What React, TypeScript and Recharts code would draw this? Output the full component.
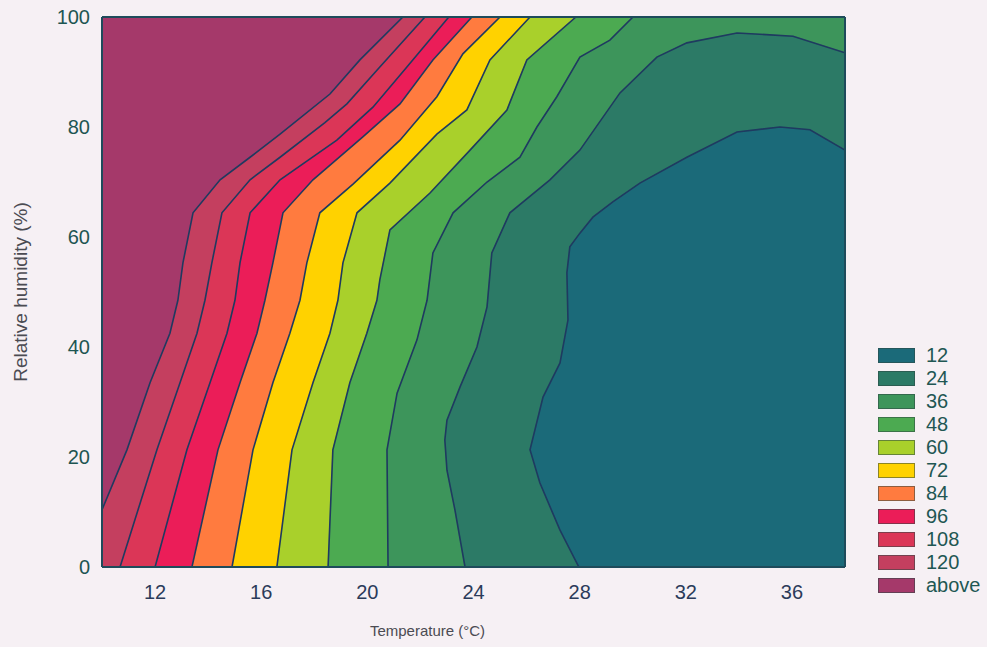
import React from 'react';
import { ComposedChart, Scatter, XAxis, YAxis, Legend } from 'recharts';

// legend order, top to bottom
const levels = ['12', '24', '36', '48', '60', '72', '84', '96', '108', '120', 'above'];
const levelColors = [
  '#1b6a79', '#2c7a66', '#3d955b', '#4caa51', '#a9d02b', '#ffd200',
  '#ff7b3f', '#eb1d58', '#db3657', '#c43f5f', '#a5396a',
];

const xTicks = [11, 12, 13, 14, 15, 16, 17, 18, 19, 20, 21, 22, 23, 24, 25, 26, 27, 28, 29, 30, 31, 32, 33, 34, 35, 36, 37];
const xLabels = [12, 16, 20, 24, 28, 32, 36];
const yTicks = [0, 4, 8, 12, 16, 20, 24, 28, 32, 36, 40, 44, 48, 52, 56, 60, 64, 68, 72, 76, 80, 84, 88, 92, 96, 100];
const yLabels = [0, 20, 40, 60, 80, 100];

// contour lines, [temperature °C, relative humidity %]
const c120 = [[10, 10.4], [10.94, 21.3], [11.81, 33.5], [12.56, 42.5], [12.86, 48.5], [13.05, 55.3], [13.43, 64.4], [14.45, 70.4], [15.58, 74.5], [16.71, 78.7], [18.59, 86.0], [19.72, 92.2], [21.34, 100]];
const c108 = [[10.68, 0], [12.07, 21.3], [12.94, 33.5], [13.58, 42.5], [13.88, 48.5], [14.14, 55.3], [14.52, 64.4], [15.58, 70.4], [16.71, 74.5], [18.4, 80.8], [19.23, 84.2], [20.47, 90.9], [22.17, 100]];
const c96 = [[12.0, 0], [13.2, 21.3], [14.07, 33.5], [14.71, 42.5], [15.01, 48.5], [15.2, 55.3], [15.58, 64.4], [16.71, 70.4], [18.85, 77.6], [20.21, 83.6], [21.49, 90.9], [23.07, 100]];
const c84 = [[13.39, 0], [14.37, 21.3], [15.2, 33.5], [15.84, 42.5], [16.14, 48.5], [16.44, 55.3], [16.82, 64.4], [17.95, 70.4], [19.83, 78.2], [21.23, 84.2], [22.47, 92.2], [23.94, 100]];
const c72 = [[14.9, 0], [15.69, 21.3], [16.44, 33.5], [17.08, 42.5], [17.46, 48.5], [17.72, 55.3], [18.21, 64.4], [19.46, 69.6], [21.23, 77.6], [22.62, 85.5], [23.6, 93.3], [25.0, 100]];
const c60 = [[16.59, 0], [17.16, 21.3], [17.95, 33.5], [18.59, 42.5], [18.89, 48.5], [19.08, 55.3], [19.61, 64.4], [20.85, 69.8], [22.62, 78.7], [23.75, 83.1], [24.62, 92.2], [26.13, 100]];
const c48 = [[18.52, 0], [18.7, 21.3], [19.34, 33.5], [19.98, 42.5], [20.36, 48.5], [20.47, 52.2], [20.85, 61.3], [22.36, 68.0], [23.87, 75.8], [25.26, 83.1], [26.01, 92.2], [27.86, 100]];
const c36 = [[20.78, 0], [20.74, 21.3], [21.12, 31.6], [21.87, 41.3], [22.25, 48.5], [22.47, 57.1], [23.23, 64.4], [24.51, 70.0], [25.75, 74.5], [26.39, 80.0], [27.14, 85.5], [28.01, 92.7], [29.14, 95.8], [30.01, 100]];
const c24 = [[23.68, 0], [23.3, 10.4], [23.0, 17.6], [22.92, 23.1], [23.0, 26.7], [23.49, 32.7], [24.13, 40.0], [24.51, 47.3], [24.69, 57.1], [25.37, 64.4], [26.88, 70.4], [28.01, 75.8], [29.52, 86.2], [30.91, 92.7], [32.04, 95.3], [33.93, 97.1], [36.04, 96.5], [38, 93.5]];
const c12 = [[27.97, 0], [27.26, 6.7], [26.5, 15.3], [26.13, 21.3], [26.62, 30.9], [27.26, 37.1], [27.56, 44.9], [27.52, 53.5], [27.63, 58.2], [28.01, 60.7], [28.5, 63.6], [29.25, 66.4], [30.27, 69.8], [32.04, 74.5], [33.93, 79.1], [35.55, 80.0], [36.68, 79.5], [38, 75.8]];

const contours = [c120, c108, c96, c84, c72, c60, c48, c36, c24, c12];

// filled regions, painted in order (each one lies inside the previous one)
const regions = [
  { level: 'above', pts: [[10, 0], [10, 100], [38, 100], [38, 0]] },
  { level: '120', pts: [...c120, [38, 100], [38, 0], [10, 0]] },
  { level: '108', pts: [...c108, [38, 100], [38, 0]] },
  { level: '96', pts: [...c96, [38, 100], [38, 0]] },
  { level: '84', pts: [...c84, [38, 100], [38, 0]] },
  { level: '72', pts: [...c72, [38, 100], [38, 0]] },
  { level: '60', pts: [...c60, [38, 100], [38, 0]] },
  { level: '48', pts: [...c48, [38, 100], [38, 0]] },
  { level: '36', pts: [...c36, [38, 100], [38, 0]] },
  { level: '24', pts: [...c24, [38, 0]] },
  { level: '12', pts: [...c12, [38, 0]] },
];

const toPoints = (arr: number[][]) => arr.map(([x, y]) => ({ x, y }));
const colorOf = (level: string) => levelColors[levels.indexOf(level)];

const FONT = '"Liberation Sans", Arial, Helvetica, sans-serif';
const FRAME = '#1e4b5b';
const LINE = '#1f3a60';
const MARGIN = { top: 16, right: 141, bottom: 0, left: 0 };

const noDot = () => <g />;

const fillPath = (color: string) => (props: any) => {
  const pts = props.points || [];
  const d = pts.map((p: any, i: number) => `${i ? 'L' : 'M'}${p.x},${p.y}`).join('') + 'Z';
  return <path d={d} fill={color} stroke={color} strokeWidth={0.5} />;
};

function LegendBox() {
  return (
    <div style={{ fontFamily: FONT }}>
      {levels.map((lv, i) => (
        <div key={lv} style={{ display: 'flex', alignItems: 'center', height: 23 }}>
          <div
            style={{
              width: 37,
              height: 15,
              background: levelColors[i],
              border: '1px solid rgba(45,70,65,0.55)',
              boxSizing: 'border-box',
            }}
          />
          <span style={{ marginLeft: 11, fontSize: 20, color: '#1f5753', lineHeight: '23px' }}>{lv}</span>
        </div>
      ))}
    </div>
  );
}

// frame and inward ticks, drawn on a second chart laid over the filled one
function FrameOverlay() {
  const axisLine = { stroke: FRAME, strokeWidth: 2 };
  const tickLine = { stroke: FRAME, strokeWidth: 1.2 };
  return (
    <div style={{ position: 'absolute', left: 0, top: 0, pointerEvents: 'none' }}>
      <ComposedChart width={987} height={647} margin={MARGIN}>
        <Scatter data={toPoints(regions[0].pts)} shape={noDot} isAnimationActive={false} legendType="none" />
        <XAxis type="number" dataKey="x" domain={[10, 38]} allowDataOverflow ticks={xTicks} interval={0}
          tick={false} height={80} tickSize={-4} axisLine={axisLine} tickLine={tickLine} />
        <XAxis xAxisId="top" orientation="top" type="number" domain={[10, 38]} allowDataOverflow ticks={xTicks}
          interval={0} tick={false} height={1} tickSize={-4} axisLine={axisLine} tickLine={tickLine} />
        <YAxis type="number" dataKey="y" domain={[0, 100]} allowDataOverflow ticks={yTicks} interval={0}
          tick={false} width={102} tickSize={-4} axisLine={axisLine} tickLine={tickLine} />
        <YAxis yAxisId="right" orientation="right" type="number" domain={[0, 100]} allowDataOverflow ticks={yTicks}
          interval={0} tick={false} width={1} tickSize={-4} axisLine={axisLine} tickLine={tickLine} />
      </ComposedChart>
    </div>
  );
}

export default function App() {
  return (
    <div
      style={{
        position: 'absolute',
        left: 0,
        top: 0,
        width: 987,
        height: 647,
        background: '#f6f0f4',
        fontFamily: FONT,
      }}
    >
      <ComposedChart width={987} height={647} margin={MARGIN}>
        {regions.map((r) => (
          <Scatter
            key={'fill-' + r.level}
            data={toPoints(r.pts)}
            line={fillPath(colorOf(r.level))}
            shape={noDot}
            isAnimationActive={false}
            legendType="none"
          />
        ))}
        {contours.map((c, i) => (
          <Scatter
            key={'line-' + i}
            data={toPoints(c)}
            line={{ stroke: LINE, strokeWidth: 1.6 }}
            shape={noDot}
            isAnimationActive={false}
            legendType="none"
          />
        ))}
        <XAxis
          type="number"
          dataKey="x"
          domain={[10, 38]}
          allowDataOverflow
          ticks={xTicks}
          interval={0}
          tickFormatter={(v) => (xLabels.includes(v) ? String(v) : '')}
          height={80}
          tickSize={-4}
          tickMargin={22}
          axisLine={false}
          tickLine={false}
          tick={{ fill: '#2b3b5a', fontSize: 20, fontFamily: FONT }}
          label={{ value: 'Temperature (°C)', position: 'insideBottom', offset: 11, dx: -46, fill: '#4b4b52', fontSize: 15, fontFamily: FONT }}
        />
        <XAxis xAxisId="top" orientation="top" type="number" domain={[10, 38]} height={1}
          tick={false} axisLine={false} tickLine={false} />
        <YAxis
          type="number"
          dataKey="y"
          domain={[0, 100]}
          allowDataOverflow
          ticks={yTicks}
          interval={0}
          tickFormatter={(v) => (yLabels.includes(v) ? String(v) : '')}
          width={102}
          tickSize={-4}
          tickMargin={16}
          axisLine={false}
          tickLine={false}
          tick={{ fill: '#1d5552', fontSize: 20, fontFamily: FONT }}
          label={{
            value: 'Relative humidity (%)',
            angle: -90,
            position: 'insideLeft',
            offset: 20,
            fill: '#4b4b52',
            fontSize: 19,
            fontFamily: FONT,
            style: { textAnchor: 'middle' },
          }}
        />
        <YAxis yAxisId="right" orientation="right" type="number" domain={[0, 100]} width={1}
          tick={false} axisLine={false} tickLine={false} />
        <Legend
          layout="vertical"
          align="center"
          verticalAlign="middle"
          wrapperStyle={{ left: 878, top: 344, width: 105 }}
          content={() => <LegendBox />}
        />
      </ComposedChart>
      <FrameOverlay />
    </div>
  );
}
